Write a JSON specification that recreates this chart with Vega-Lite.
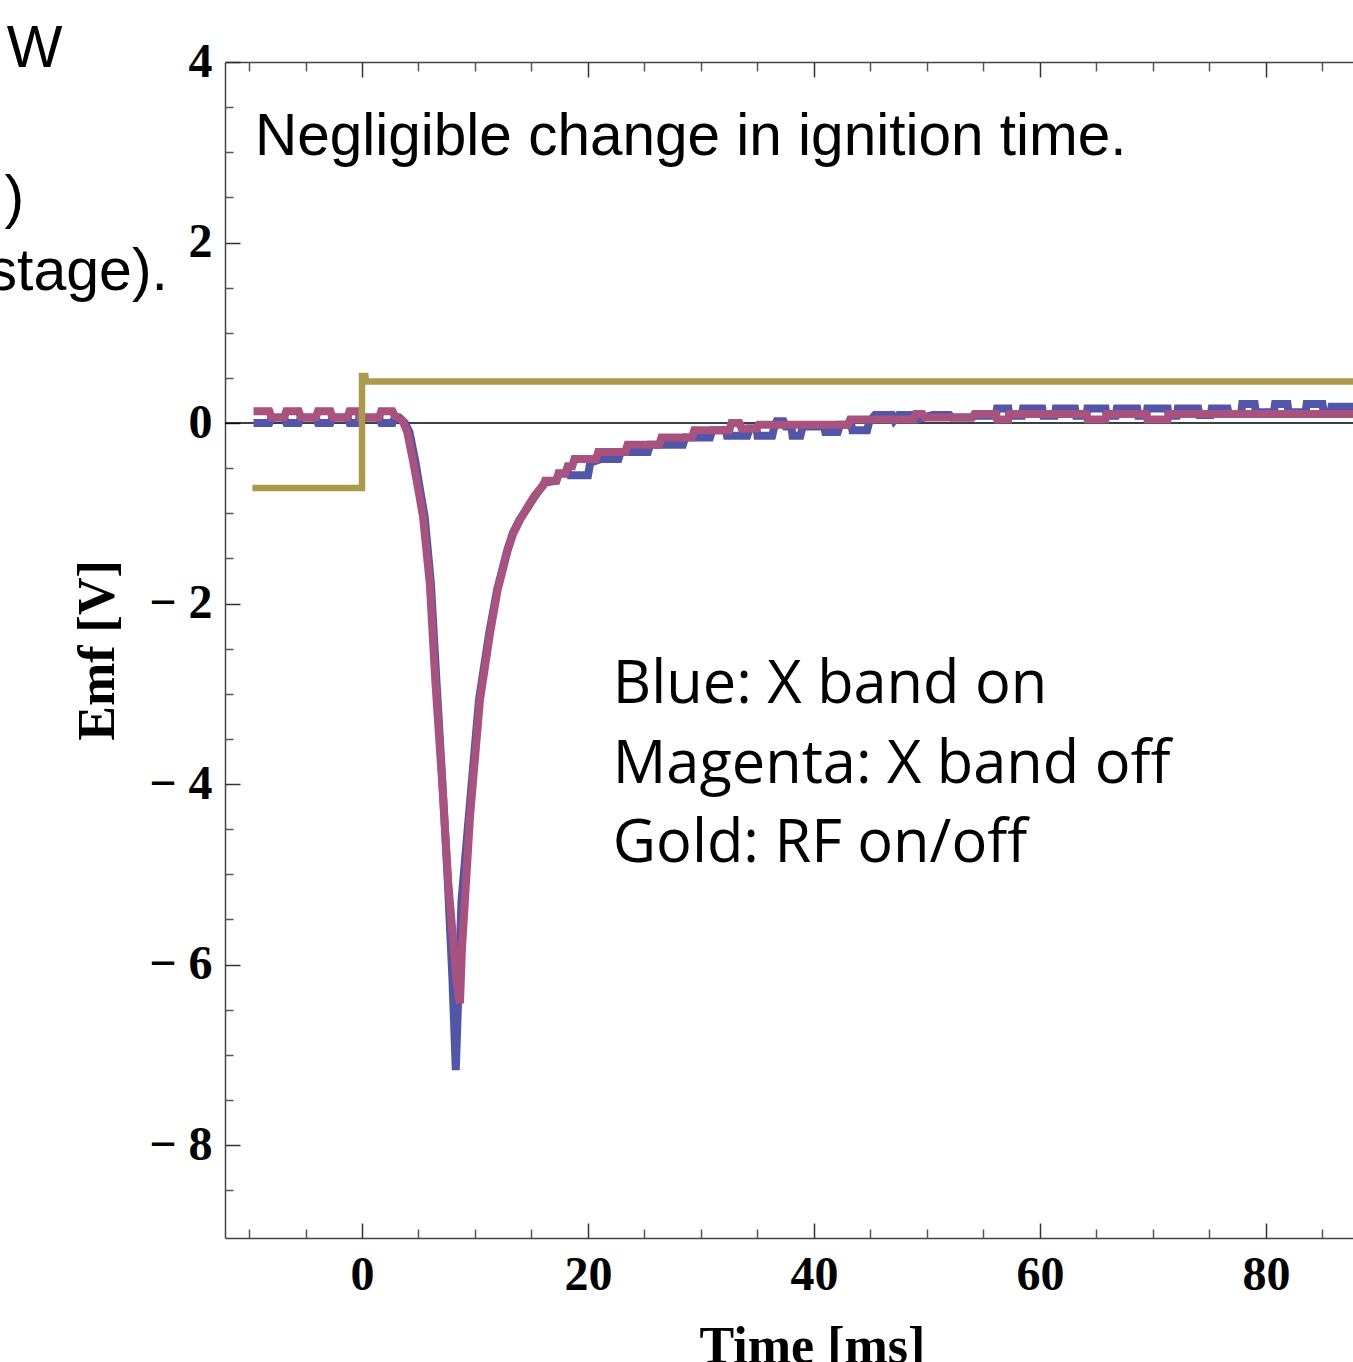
{
  "$schema": "https://vega.github.io/schema/vega-lite/v6.json",
  "width": 1128,
  "height": 1176,
  "autosize": {"type": "none"},
  "padding": {"left": 225, "top": 62, "right": 0, "bottom": 124},
  "background": "#ffffff",
  "config": {"view": {"stroke": null}, "axis": {"grid": false}},
  "resolve": {"axis": {"x": "independent", "y": "independent"}},
  "layer": [
    {
      "data": {"values": [{"v": 0}]},
      "mark": {"type": "rule", "color": "#000000", "strokeWidth": 1.5},
      "encoding": {
        "y": {"field": "v", "type": "quantitative", "scale": {"domain": [-9.03, 4], "nice": false, "zero": false}, "axis": null}
      }
    },
    {
      "data": {"values": [
        {"t": -9.6, "v": 0.0}, {"t": -8.2, "v": 0.0}, {"t": -8.0, "v": 0.06}, {"t": -6.9, "v": 0.06}, {"t": -6.7, "v": 0.0}, {"t": -5.6, "v": 0.0}, {"t": -5.4, "v": 0.06}, {"t": -4.1, "v": 0.06}, {"t": -3.9, "v": 0.0}, {"t": -2.8, "v": 0.0}, {"t": -2.6, "v": 0.06}, {"t": -1.3, "v": 0.06}, {"t": -1.1, "v": 0.0}, {"t": -0.4, "v": 0.0}, {"t": -0.2, "v": 0.06}, {"t": 1.5, "v": 0.06}, {"t": 1.7, "v": 0.0}, {"t": 2.7, "v": 0.0}, {"t": 2.9, "v": 0.06}, {"t": 3.3, "v": 0.06},
        {"t": 3.8, "v": 0.0}, {"t": 4.2, "v": -0.1}, {"t": 4.7, "v": -0.41}, {"t": 5.15, "v": -0.75}, {"t": 5.55, "v": -1.04}, {"t": 6.1, "v": -1.78}, {"t": 6.6, "v": -2.88}, {"t": 7.12, "v": -3.99}, {"t": 7.6, "v": -5.1}, {"t": 8.0, "v": -6.15}, {"t": 8.3, "v": -7.17}, {"t": 8.6, "v": -6.05}, {"t": 8.8, "v": -5.3}, {"t": 9.45, "v": -4.36}, {"t": 10.35, "v": -3.07}, {"t": 11.25, "v": -2.33}, {"t": 11.95, "v": -1.85}, {"t": 12.85, "v": -1.41},
        {"t": 13.35, "v": -1.22}, {"t": 13.95, "v": -1.07}, {"t": 14.55, "v": -0.96}, {"t": 15.25, "v": -0.82}, {"t": 15.95, "v": -0.7}, {"t": 16.2, "v": -0.66}, {"t": 17.2, "v": -0.64}, {"t": 17.4, "v": -0.56}, {"t": 18.3, "v": -0.56}, {"t": 18.4, "v": -0.58}, {"t": 20.0, "v": -0.58}, {"t": 20.2, "v": -0.44}, {"t": 21.1, "v": -0.4}, {"t": 21.3, "v": -0.4}, {"t": 22.7, "v": -0.4}, {"t": 22.9, "v": -0.32}, {"t": 25.3, "v": -0.32}, {"t": 25.5, "v": -0.24}, {"t": 28.4, "v": -0.24}, {"t": 28.6, "v": -0.16}, {"t": 30.8, "v": -0.16}, {"t": 31.0, "v": -0.08}, {"t": 32.2, "v": -0.08}, {"t": 32.3, "v": -0.14}, {"t": 34.1, "v": -0.14}, {"t": 34.3, "v": -0.06}, {"t": 34.9, "v": -0.06}, {"t": 35.0, "v": -0.14}, {"t": 36.3, "v": -0.14}, {"t": 36.5, "v": -0.04}, {"t": 36.7, "v": 0.02}, {"t": 37.3, "v": 0.02}, {"t": 37.5, "v": -0.04}, {"t": 38.0, "v": -0.04}, {"t": 38.1, "v": -0.14}, {"t": 38.8, "v": -0.14}, {"t": 39.0, "v": -0.04}, {"t": 40.9, "v": -0.04}, {"t": 41.0, "v": -0.1}, {"t": 42.1, "v": -0.1}, {"t": 42.3, "v": -0.02}, {"t": 43.3, "v": -0.02}, {"t": 43.4, "v": -0.08}, {"t": 44.7, "v": -0.08}, {"t": 44.9, "v": 0.02}, {"t": 45.4, "v": 0.09}, {"t": 46.9, "v": 0.09}, {"t": 47.1, "v": 0.03}, {"t": 47.5, "v": 0.09}, {"t": 49.0, "v": 0.09}, {"t": 49.2, "v": 0.04}, {"t": 50.5, "v": 0.09}, {"t": 52.0, "v": 0.09}, {"t": 52.2, "v": 0.06}, {"t": 54.0, "v": 0.06}, {"t": 54.2, "v": 0.08}, {"t": 56.1, "v": 0.08}, {"t": 56.2, "v": 0.16}, {"t": 57.2, "v": 0.16}, {"t": 57.3, "v": 0.08}, {"t": 58.4, "v": 0.08}, {"t": 58.5, "v": 0.16}, {"t": 60.2, "v": 0.16}, {"t": 60.3, "v": 0.08}, {"t": 61.3, "v": 0.08}, {"t": 61.4, "v": 0.16}, {"t": 63.1, "v": 0.16}, {"t": 63.2, "v": 0.08}, {"t": 64.1, "v": 0.08}, {"t": 64.2, "v": 0.16}, {"t": 65.8, "v": 0.16}, {"t": 65.9, "v": 0.08}, {"t": 66.7, "v": 0.08}, {"t": 66.8, "v": 0.16}, {"t": 68.6, "v": 0.16}, {"t": 68.7, "v": 0.08}, {"t": 69.4, "v": 0.08}, {"t": 69.5, "v": 0.16}, {"t": 71.3, "v": 0.16}, {"t": 71.4, "v": 0.08}, {"t": 72.1, "v": 0.08}, {"t": 72.2, "v": 0.16}, {"t": 74.0, "v": 0.16}, {"t": 74.1, "v": 0.09}, {"t": 75.1, "v": 0.09}, {"t": 75.2, "v": 0.16}, {"t": 76.6, "v": 0.16}, {"t": 76.7, "v": 0.1}, {"t": 77.8, "v": 0.1}, {"t": 77.9, "v": 0.21}, {"t": 79.0, "v": 0.21}, {"t": 79.1, "v": 0.12}, {"t": 80.7, "v": 0.12}, {"t": 80.8, "v": 0.21}, {"t": 81.9, "v": 0.21}, {"t": 82.0, "v": 0.12}, {"t": 83.5, "v": 0.12}, {"t": 83.6, "v": 0.21}, {"t": 85.0, "v": 0.21}, {"t": 85.1, "v": 0.12}, {"t": 85.7, "v": 0.12}, {"t": 85.8, "v": 0.18}, {"t": 88.5, "v": 0.18}
      ]},
      "mark": {"type": "line", "color": "#5156A8", "strokeWidth": 8, "clip": true},
      "encoding": {
        "x": {"field": "t", "type": "quantitative", "sort": null, "scale": {"domain": [-12.124, 87.7], "nice": false, "zero": false},
          "axis": {"orient": "bottom", "values": [0, 20, 40, 60, 80], "ticks": false, "grid": false, "domain": true, "domainColor": "#444444", "domainWidth": 1.5,
            "labelFont": "Liberation Serif", "labelFontWeight": "bold", "labelFontSize": 48, "labelColor": "#000000", "labelPadding": 51, "labelBaseline": "alphabetic", "labelFlush": false, "labelOverlap": false,
            "title": "Time [ms]", "titleFont": "Liberation Serif", "titleFontWeight": "bold", "titleFontSize": 52, "titleColor": "#000000", "titleX": 587, "titleY": 124, "titleBaseline": "alphabetic", "titleAlign": "center"}},
        "y": {"field": "v", "type": "quantitative", "scale": {"domain": [-9.03, 4], "nice": false, "zero": false},
          "axis": {"orient": "left", "values": [4, 2, 0, -2, -4, -6, -8], "ticks": false, "grid": false, "domain": true, "domainColor": "#444444", "domainWidth": 1.5,
            "labelExpr": "datum.value < 0 ? '\u2212 ' + format(-datum.value, 'd') : format(datum.value, 'd')",
            "labelFont": "Liberation Serif", "labelFontWeight": "bold", "labelFontSize": 48, "labelColor": "#000000", "labelPadding": 13, "labelBaseline": "middle", "labelFlush": false, "labelOverlap": false,
            "title": "Emf [V]", "titleFont": "Liberation Serif", "titleFontWeight": "bold", "titleFontSize": 52, "titleColor": "#000000", "titleAngle": -90, "titleX": -112, "titleY": 588, "titleBaseline": "alphabetic", "titleAlign": "center"}}
      }
    },
    {
      "data": {"values": [
        {"t": -9.6, "v": 0.13}, {"t": -8.2, "v": 0.13}, {"t": -8.0, "v": 0.06}, {"t": -6.9, "v": 0.06}, {"t": -6.7, "v": 0.13}, {"t": -5.6, "v": 0.13}, {"t": -5.4, "v": 0.06}, {"t": -4.1, "v": 0.06}, {"t": -3.9, "v": 0.13}, {"t": -2.8, "v": 0.13}, {"t": -2.6, "v": 0.06}, {"t": -1.3, "v": 0.06}, {"t": -1.1, "v": 0.13}, {"t": -0.4, "v": 0.13}, {"t": -0.2, "v": 0.06}, {"t": 1.5, "v": 0.06}, {"t": 1.7, "v": 0.13}, {"t": 2.7, "v": 0.13}, {"t": 2.9, "v": 0.08}, {"t": 3.1, "v": 0.07},
        {"t": 3.6, "v": 0.02}, {"t": 4.0, "v": -0.1}, {"t": 4.5, "v": -0.41}, {"t": 5.0, "v": -0.75}, {"t": 5.4, "v": -1.04}, {"t": 6.0, "v": -1.78}, {"t": 6.5, "v": -2.88}, {"t": 7.1, "v": -3.99}, {"t": 7.64, "v": -5.1}, {"t": 8.38, "v": -6.2}, {"t": 8.67, "v": -6.43}, {"t": 8.84, "v": -5.84}, {"t": 9.56, "v": -4.36}, {"t": 10.44, "v": -3.07}, {"t": 11.33, "v": -2.33}, {"t": 12.0, "v": -1.85}, {"t": 12.9, "v": -1.41},
        {"t": 13.4, "v": -1.22}, {"t": 14.0, "v": -1.07}, {"t": 14.6, "v": -0.94}, {"t": 15.3, "v": -0.8}, {"t": 16.0, "v": -0.7}, {"t": 16.2, "v": -0.64}, {"t": 17.2, "v": -0.64}, {"t": 17.4, "v": -0.56}, {"t": 18.0, "v": -0.56}, {"t": 18.2, "v": -0.48}, {"t": 18.6, "v": -0.48}, {"t": 18.8, "v": -0.4}, {"t": 20.7, "v": -0.4}, {"t": 20.9, "v": -0.32}, {"t": 23.3, "v": -0.32}, {"t": 23.5, "v": -0.24}, {"t": 26.3, "v": -0.24}, {"t": 26.5, "v": -0.16}, {"t": 29.2, "v": -0.16}, {"t": 29.4, "v": -0.08}, {"t": 32.5, "v": -0.08}, {"t": 32.7, "v": 0.0}, {"t": 33.4, "v": 0.0}, {"t": 33.6, "v": -0.06}, {"t": 34.9, "v": -0.06}, {"t": 35.1, "v": -0.02}, {"t": 43.0, "v": -0.02}, {"t": 43.2, "v": 0.04}, {"t": 48.8, "v": 0.04}, {"t": 49.0, "v": 0.1}, {"t": 49.6, "v": 0.1}, {"t": 49.8, "v": 0.06}, {"t": 54.0, "v": 0.06}, {"t": 54.2, "v": 0.1}, {"t": 56.1, "v": 0.1}, {"t": 56.2, "v": 0.04}, {"t": 57.2, "v": 0.04}, {"t": 57.3, "v": 0.1}, {"t": 64.1, "v": 0.1}, {"t": 64.2, "v": 0.04}, {"t": 65.8, "v": 0.04}, {"t": 65.9, "v": 0.1}, {"t": 69.4, "v": 0.1}, {"t": 69.5, "v": 0.04}, {"t": 71.3, "v": 0.04}, {"t": 71.4, "v": 0.1}, {"t": 88.5, "v": 0.1}
      ]},
      "mark": {"type": "line", "color": "#A9527F", "strokeWidth": 8, "clip": true},
      "encoding": {
        "x": {"field": "t", "type": "quantitative", "sort": null, "scale": {"domain": [-12.124, 87.7], "nice": false, "zero": false},
          "axis": {"orient": "bottom", "values": [0, 20, 40, 60, 80], "labels": false, "domain": false, "grid": false, "ticks": true, "tickSize": -15, "tickColor": "#333333", "tickWidth": 1.5, "title": null}},
        "y": {"field": "v", "type": "quantitative", "scale": {"domain": [-9.03, 4], "nice": false, "zero": false},
          "axis": {"orient": "left", "values": [4, 2, 0, -2, -4, -6, -8], "labels": false, "domain": false, "grid": false, "ticks": true, "tickSize": -15, "tickColor": "#333333", "tickWidth": 1.5, "title": null}}
      }
    },
    {
      "data": {"values": [
        {"t": -9.7, "v": -0.72}, {"t": 0.0, "v": -0.72}, {"t": 0.0, "v": 0.52}, {"t": 0.3, "v": 0.52}, {"t": 0.35, "v": 0.46}, {"t": 88.5, "v": 0.46}
      ]},
      "mark": {"type": "line", "color": "#A99A4E", "strokeWidth": 6.5, "clip": true},
      "encoding": {
        "x": {"field": "t", "type": "quantitative", "sort": null, "scale": {"domain": [-12.124, 87.7], "nice": false, "zero": false},
          "axis": {"orient": "bottom", "values": [-10, -5, 5, 10, 15, 25, 30, 35, 45, 50, 55, 65, 70, 75, 85], "labels": false, "domain": false, "grid": false, "ticks": true, "tickSize": -9, "tickColor": "#555555", "tickWidth": 1.5, "title": null}},
        "y": {"field": "v", "type": "quantitative", "scale": {"domain": [-9.03, 4], "nice": false, "zero": false},
          "axis": {"orient": "left", "values": [3.5, 3, 2.5, 1.5, 1, 0.5, -0.5, -1, -1.5, -2.5, -3, -3.5, -4.5, -5, -5.5, -6.5, -7, -7.5, -8.5], "labels": false, "domain": false, "grid": false, "ticks": true, "tickSize": -8, "tickColor": "#555555", "tickWidth": 1.5, "title": null}}
      }
    },
    {
      "data": {"values": [{"x": -9.47, "y": 2.975, "label": "Negligible change in ignition time."}]},
      "mark": {"type": "text", "font": "Liberation Sans", "fontSize": 58.5, "align": "left", "baseline": "alphabetic", "color": "#000000"},
      "encoding": {
        "x": {"field": "x", "type": "quantitative", "scale": {"domain": [-12.124, 87.7], "nice": false, "zero": false},
          "axis": {"orient": "top", "values": [-10, -5, 5, 10, 15, 25, 30, 35, 45, 50, 55, 65, 70, 75, 85], "labels": false, "domain": true, "domainColor": "#444444", "domainWidth": 1.5, "grid": false, "ticks": true, "tickSize": -9, "tickColor": "#555555", "tickWidth": 1.5, "title": null}},
        "y": {"field": "y", "type": "quantitative", "scale": {"domain": [-9.03, 4], "nice": false, "zero": false}, "axis": null},
        "text": {"field": "label"}
      }
    },
    {
      "data": {"values": [
        {"x": 22.2, "y": -3.102, "label": "Blue: X band on"},
        {"x": 22.2, "y": -3.989, "label": "Magenta: X band off"},
        {"x": 22.2, "y": -4.864, "label": "Gold: RF on/off"}
      ]},
      "mark": {"type": "text", "font": "Open Sans", "fontSize": 59.5, "align": "left", "baseline": "alphabetic", "color": "#000000"},
      "encoding": {
        "x": {"field": "x", "type": "quantitative", "scale": {"domain": [-12.124, 87.7], "nice": false, "zero": false},
          "axis": {"orient": "top", "values": [0, 20, 40, 60, 80], "labels": false, "domain": false, "grid": false, "ticks": true, "tickSize": -15, "tickColor": "#333333", "tickWidth": 1.5, "title": null}},
        "y": {"field": "y", "type": "quantitative", "scale": {"domain": [-9.03, 4], "nice": false, "zero": false}, "axis": null},
        "text": {"field": "label"}
      }
    },
    {
      "data": {"values": [
        {"x": -26.5, "y": 3.945, "label": "W"},
        {"x": -29.9, "y": 2.283, "label": ")"},
        {"x": -17.17, "y": 1.474, "label": "stage)."}
      ]},
      "mark": {"type": "text", "font": "Liberation Sans", "fontSize": 59, "align": "right", "baseline": "alphabetic", "color": "#000000", "clip": false},
      "encoding": {
        "x": {"field": "x", "type": "quantitative", "scale": {"domain": [-12.124, 87.7], "nice": false, "zero": false}, "axis": null},
        "y": {"field": "y", "type": "quantitative", "scale": {"domain": [-9.03, 4], "nice": false, "zero": false}, "axis": null},
        "text": {"field": "label"}
      }
    }
  ]
}
